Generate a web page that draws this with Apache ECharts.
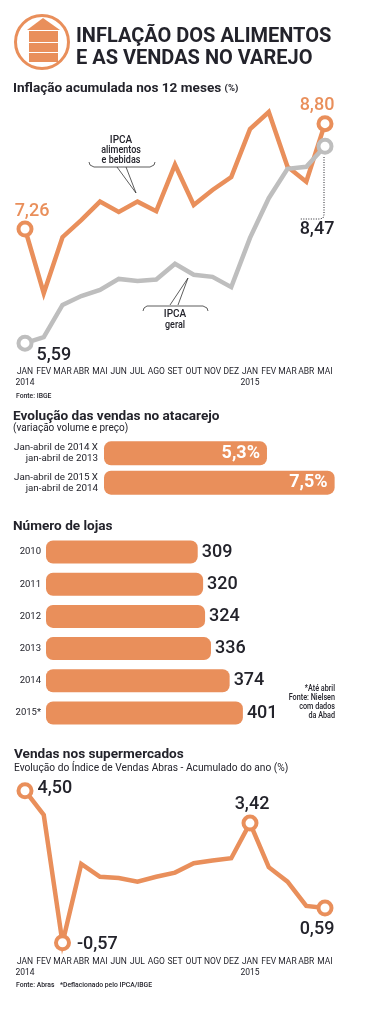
<!DOCTYPE html>
<html>
<head>
<meta charset="utf-8">
<style>html,body{margin:0;padding:0;background:#fff}#main{width:368px;height:1019px}</style>
<script src="https://cdn.jsdelivr.net/npm/echarts@6/dist/echarts.min.js"></script>
</head>
<body>
<div id="main"></div>
<script>
var months = ['JAN','FEV','MAR','ABR','MAI','JUN','JUL','AGO','SET','OUT','NOV','DEZ','JAN','FEV','MAR','ABR','MAI'];
var years = {0: '2014', 12: '2015'};

// inflacao acumulada 12 meses
var ipcaAlimentos = [7.26,6.32,7.14,7.39,7.66,7.51,7.66,7.52,8.20,7.61,7.83,8.02,8.72,8.97,8.17,7.95,8.80];
var ipcaGeral = [5.59,5.68,6.15,6.28,6.37,6.53,6.50,6.52,6.75,6.59,6.56,6.41,7.13,7.71,8.14,8.17,8.47];

// atacarejo
var atacarejoCats = ['Jan-abril de 2014 X\njan-abril de 2013','Jan-abril de 2015 X\njan-abril de 2014'];
var atacarejoVals = [5.3,7.5];

// lojas
var lojasCats = ['2010','2011','2012','2013','2014','2015*'];
var lojasVals = [309,320,324,336,374,401];

// supermercados
var abras = [4.50,3.69,-0.57,2.06,1.63,1.59,1.47,1.63,1.77,2.08,2.17,2.25,3.42,1.95,1.47,0.66,0.59];

var ORANGE = '#E98F5B';
var GRAY = '#BEBEBE';
var DARK = '#23232b';
var HEAD = 'Roboto';

function br(v) {
    return v.toFixed(2).replace('.', ',');
}

// so os pontos em keys ganham anel e rotulo
function points(values, keys, color) {
    return values.map(function (v, i) {
        var k = keys[i];
        if (!k) return {value: v, symbol: 'none'};
        return {
            value: v,
            symbol: 'circle',
            symbolSize: 13,
            itemStyle: {color: '#fff', borderColor: color, borderWidth: 4},
            label: {
                show: true,
                position: k.pos,
                offset: k.offset,
                formatter: br(v),
                color: k.color,
                fontFamily: HEAD,
                fontSize: 18,
                fontWeight: 500
            }
        };
    });
}

function lineSeries(name, idx, values, keys, color) {
    return {
        name: name,
        type: 'line',
        xAxisIndex: idx,
        yAxisIndex: idx,
        data: points(values, keys, color),
        showAllSymbol: true,
        lineStyle: {color: color, width: 4.5, join: 'miter'},
        itemStyle: {color: color},
        silent: true
    };
}

function monthAxis(idx, margin) {
    return {
        type: 'category',
        gridIndex: idx,
        boundaryGap: false,
        data: months,
        axisLine: {show: false},
        axisTick: {show: false},
        axisLabel: {
            interval: 0,
            margin: margin,
            color: DARK,
            fontFamily: HEAD,
            fontSize: 8.5,
            lineHeight: 11,
            hideOverlap: false,
            formatter: function (v, i) {
                return years[i] ? v + '\n' + years[i] : v;
            }
        }
    };
}

function heading(text, left, top, size) {
    return {
        text: text,
        left: left,
        top: top,
        padding: 0,
        textStyle: {color: DARK, fontFamily: HEAD, fontSize: size, fontWeight: 'bold', lineHeight: size + 2}
    };
}

// texto condensado: nao ha fonte narrow instalada, entao aperta com scaleX
function note(text, left, top, size, align, sx) {
    return {
        type: 'text',
        x: left,
        y: top,
        scaleX: sx || 0.85,
        style: {text: text, fill: DARK, font: '500 ' + size + 'px ' + HEAD, textAlign: align || 'left'}
    };
}

function stroke(pts, dash) {
    return {
        type: 'polyline',
        shape: {points: pts},
        style: {fill: null, stroke: dash ? DARK : '#333', lineWidth: dash ? 1 : 0.8, lineDash: dash || null}
    };
}

var option = {
    backgroundColor: '#fff',
    animation: false,
    title: [
        {
            text: 'INFLAÇÃO DOS ALIMENTOS\nE AS VENDAS NO VAREJO',
            left: 76, top: 26, padding: 0,
            textStyle: {color: DARK, fontFamily: HEAD, fontSize: 20, fontWeight: 'bold', lineHeight: 22}
        },
        {
            text: 'Inflação acumulada nos 12 meses {s|(%)}',
            left: 13, top: 82, padding: 0,
            textStyle: {color: DARK, fontFamily: HEAD, fontSize: 13.6, fontWeight: 'bold',
                rich: {s: {fontFamily: HEAD, fontSize: 9.5, fontWeight: 'bold', color: DARK}}}
        },
        heading('Evolução das vendas no atacarejo', 13, 409, 13.6),
        {
            text: '(variação volume e preço)', left: 13, top: 423, padding: 0,
            textStyle: {color: DARK, fontFamily: HEAD, fontSize: 10, fontWeight: 'normal'}
        },
        heading('Número de lojas', 13, 519, 13.6),
        heading('Vendas nos supermercados', 14, 747, 13.6),
        {
            text: 'Evolução do Índice de Vendas Abras - Acumulado do ano (%)', left: 14, top: 763, padding: 0,
            textStyle: {color: DARK, fontFamily: HEAD, fontSize: 10.2, fontWeight: 'normal'}
        }
    ],
    grid: [
        {left: 25, width: 300, top: 110, height: 253},
        {left: 104, width: 246, top: 438.7, height: 58.6},
        {left: 46, width: 245.5, top: 535.9, height: 193.2},
        {left: 25, width: 300, top: 775.7, height: 180}
    ],
    xAxis: [
        monthAxis(0, 3),
        {type: 'value', gridIndex: 1, min: 0, max: 8, show: false},
        {type: 'value', gridIndex: 2, min: 0, max: 500, show: false},
        monthAxis(3, 1)
    ],
    yAxis: [
        {type: 'value', gridIndex: 0, min: 5.3, max: 9, show: false},
        {
            type: 'category', gridIndex: 1, inverse: true, data: atacarejoCats,
            axisLine: {show: false}, axisTick: {show: false},
            axisLabel: {margin: 6, color: DARK, fontFamily: HEAD, fontSize: 9.8, lineHeight: 11, align: 'right'}
        },
        {
            type: 'category', gridIndex: 2, inverse: true, data: lojasCats,
            axisLine: {show: false}, axisTick: {show: false},
            axisLabel: {margin: 5, color: DARK, fontFamily: HEAD, fontSize: 9.5}
        },
        {type: 'value', gridIndex: 3, min: -1, max: 5, show: false}
    ],
    series: [
        lineSeries('IPCA alimentos e bebidas', 0, ipcaAlimentos, {
            0: {pos: 'top', offset: [7, 5], color: ORANGE},
            16: {pos: 'top', offset: [-8, 4], color: ORANGE}
        }, ORANGE),
        lineSeries('IPCA geral', 0, ipcaGeral, {
            0: {pos: 'right', offset: [-2, 12], color: DARK},
            16: {pos: 'bottom', offset: [-8, 61], color: DARK}
        }, GRAY),
        {
            name: 'Atacarejo',
            type: 'bar',
            xAxisIndex: 1,
            yAxisIndex: 1,
            data: atacarejoVals,
            barWidth: 24,
            silent: true,
            itemStyle: {color: ORANGE, borderRadius: 7},
            label: {
                show: true,
                position: 'insideRight',
                offset: [-2, 0],
                color: '#fff',
                fontFamily: HEAD,
                fontSize: 18,
                fontWeight: 'bold',
                formatter: function (p) {
                    return p.value.toFixed(1).replace('.', ',') + '%';
                }
            }
        },
        {
            name: 'Lojas',
            type: 'bar',
            xAxisIndex: 2,
            yAxisIndex: 2,
            data: lojasVals,
            barWidth: 23,
            silent: true,
            itemStyle: {color: ORANGE, borderRadius: 7},
            label: {
                show: true,
                position: 'right',
                distance: 4,
                color: DARK,
                fontFamily: HEAD,
                fontSize: 18,
                fontWeight: 500
            }
        },
        lineSeries('Abras', 3, abras, {
            0: {pos: 'right', offset: [-1, -2], color: DARK},
            2: {pos: 'right', offset: [1, 2], color: DARK},
            12: {pos: 'top', offset: [2, 4], color: DARK},
            16: {pos: 'bottom', offset: [-8, -1], color: DARK}
        }, ORANGE)
    ],
    graphic: [
        // icone
        {type: 'circle', shape: {cx: 42, cy: 42, r: 26.5}, style: {fill: '#fff', stroke: ORANGE, lineWidth: 3}},
        {type: 'polygon', shape: {points: [[43, 18], [60, 30], [27, 30]]}, style: {fill: ORANGE}},
        {type: 'rect', shape: {x: 29, y: 31, width: 29, height: 11}, style: {fill: ORANGE}},
        {type: 'rect', shape: {x: 29, y: 43, width: 29, height: 9}, style: {fill: ORANGE}},
        {type: 'rect', shape: {x: 29, y: 53, width: 29, height: 9}, style: {fill: ORANGE}},
        // anotacoes
        stroke([[89, 162], [90, 165], [94, 167], [150, 167], [154, 165], [155, 162]]),
        stroke([[117, 167], [136, 193], [126, 167]]),
        stroke([[143, 311], [144, 308], [147, 306], [203, 306], [207, 308], [208, 311]]),
        stroke([[170, 305], [188, 278], [178, 305]]),
        stroke([[324, 157], [324, 215], [323, 218], [320, 219], [300, 219]], [1, 1.5]),
        note('IPCA', 121, 135, 10, 'center', 1),
        note('alimentos', 121, 145, 10, 'center', 0.9),
        note('e bebidas', 121, 155, 10, 'center', 0.9),
        note('IPCA', 175, 309, 10, 'center', 1),
        note('geral', 175, 320, 10, 'center', 0.9),
        note('Fonte: IBGE', 16, 392, 8),
        note('*Até abril', 335, 684, 8.5, 'right'),
        note('Fonte: Nielsen', 335, 693, 8.5, 'right'),
        note('com dados', 335, 702, 8.5, 'right'),
        note('da Abad', 335, 711, 8.5, 'right'),
        note('Fonte: Abras', 16, 981, 8),
        note('*Deflacionado pelo IPCA/IBGE', 60, 981, 8)
    ]
};

var myChart = echarts.init(document.getElementById('main'));
myChart.setOption(option);
</script>
</body>
</html>
